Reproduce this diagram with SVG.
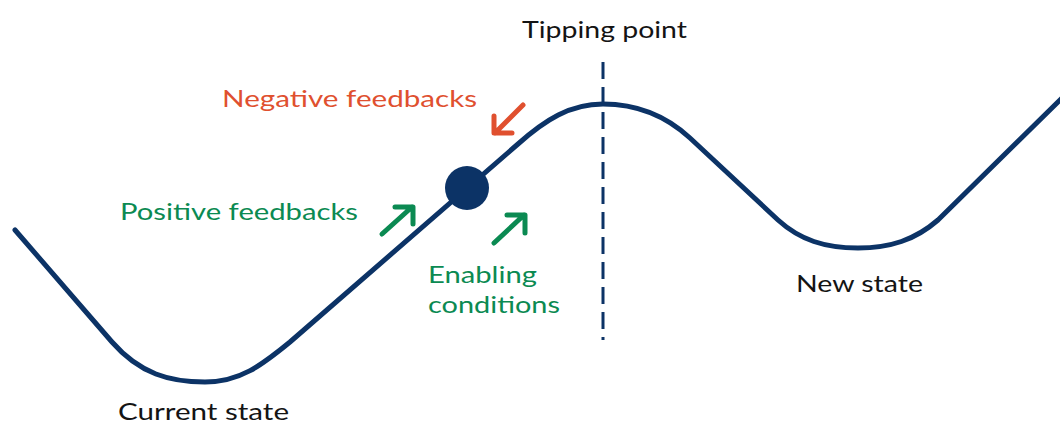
<svg xmlns="http://www.w3.org/2000/svg" width="1060" height="424" viewBox="0 0 1060 424">
<style>
text{font-family:"Lato","Liberation Sans",sans-serif;font-size:23px;}
.k{fill:#141414}.r{fill:#e0502f}.g{fill:#0b8a52}
.curve{fill:none;stroke:#0c3366;stroke-width:5;stroke-linecap:round;stroke-linejoin:round}
.dash{stroke:#0c3366;stroke-width:3;stroke-dasharray:17 8}
.ar{fill:none;stroke-width:5;stroke-linecap:round;stroke-linejoin:round}
</style>
<rect width="1060" height="424" fill="#fff"/>
<g id="connectors">
<line id="tipping-line" class="dash" x1="603" y1="62" x2="603" y2="340"/>
<path id="landscape" class="curve" d="M15,230 L112,342 C140,374 170,382 205,382 C240,382 262,365 290,342 L518,144 C545,120 570,104 603,104 C635,104 665,115 690,138 L778,220 C800,240 825,248 858,248 C890,248 915,240 938,220 L1062,98"/>
<g id="arrow-negative" class="ar" stroke="#e0502f"><path d="M523,105 L495,133 M494,116 L494,133 L512,133"/></g>
<g id="arrow-positive" class="ar" stroke="#0b8a52"><path d="M382,234 L412,207 M395,207 L413,207 L413,224"/></g>
<g id="arrow-enabling" class="ar" stroke="#0b8a52"><path d="M494,243 L524,215 M507,215 L525,215 L525,233"/></g>
</g>
<g id="ball"><circle cx="467" cy="188" r="22" fill="#0c3366"/></g>
<g id="label-tipping"><text class="k" x="522" y="38" textLength="165" lengthAdjust="spacingAndGlyphs">Tipping point</text></g>
<g id="label-negative"><text class="r" x="222" y="107" textLength="255" lengthAdjust="spacingAndGlyphs">Negative feedbacks</text></g>
<g id="label-positive"><text class="g" x="120" y="220" textLength="238" lengthAdjust="spacingAndGlyphs">Positive feedbacks</text></g>
<g id="label-enabling"><text class="g" x="428" y="283" textLength="109" lengthAdjust="spacingAndGlyphs">Enabling</text><text class="g" x="428" y="313" textLength="132" lengthAdjust="spacingAndGlyphs">conditions</text></g>
<g id="label-new"><text class="k" x="796" y="292" textLength="127" lengthAdjust="spacingAndGlyphs">New state</text></g>
<g id="label-current"><text class="k" x="118" y="420" textLength="171" lengthAdjust="spacingAndGlyphs">Current state</text></g>
</svg>
